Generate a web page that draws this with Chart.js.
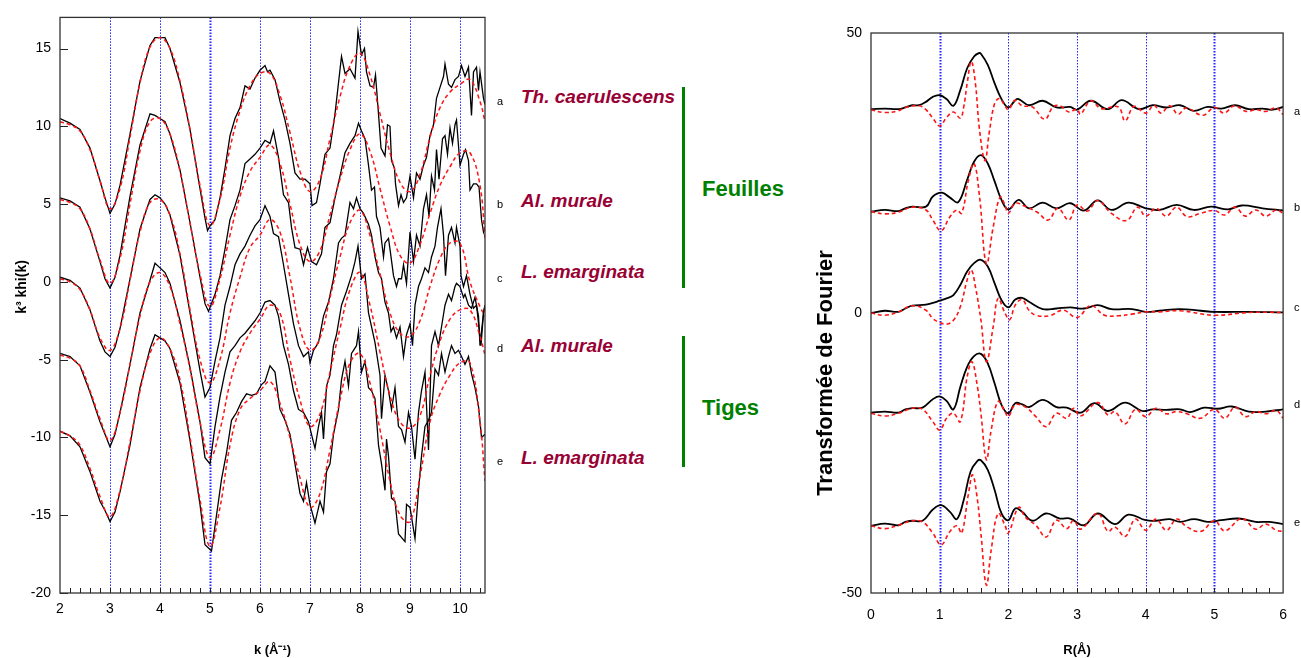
<!DOCTYPE html>
<html>
<head>
<meta charset="utf-8">
<script src="https://cdn.jsdelivr.net/npm/chart.js@4.4.1/dist/chart.umd.min.js"></script>
<style>
body { margin: 0; background: #fff; width: 1301px; height: 658px; position: relative; overflow: hidden; font-family: "Liberation Sans", Arial, sans-serif; }
#leftBox { position: absolute; left: 0; top: 0; width: 500px; height: 658px; }
#rightBox { position: absolute; left: 800px; top: 0; width: 501px; height: 658px; }
.lab { position: absolute; font-size: 11px; line-height: 12px; color: #000; }
.sp { position: absolute; font: italic bold 19px/20px "Liberation Sans", Arial, sans-serif; color: #990033; white-space: nowrap; }
.grp { position: absolute; font: bold 22px/24px "Liberation Sans", Arial, sans-serif; color: #008000; white-space: nowrap; }
.bar { position: absolute; left: 682px; width: 3px; background: #008000; }
.ytitle { position: absolute; width: 300px; text-align: center; transform: rotate(-90deg); white-space: nowrap; font-weight: bold; color: #000; }
</style>
</head>
<body>
<div id="leftBox"><canvas id="exafs"></canvas></div>
<div id="rightBox"><canvas id="fourier"></canvas></div>

<div class="ytitle" style="left:-129px; top:277px; height:20px; font-size:14px; line-height:20px;">k³ khi(k)</div>
<div class="ytitle" style="left:675px; top:359px; height:28px; font-size:22px; line-height:28px;">Transformée de Fourier</div>

<div class="lab" style="left:497px; top:95px;">a</div>
<div class="lab" style="left:497px; top:198px;">b</div>
<div class="lab" style="left:497px; top:272px;">c</div>
<div class="lab" style="left:497px; top:342px;">d</div>
<div class="lab" style="left:497px; top:455px;">e</div>

<div class="lab" style="left:1294px; top:105px;">a</div>
<div class="lab" style="left:1294px; top:201px;">b</div>
<div class="lab" style="left:1294px; top:301px;">c</div>
<div class="lab" style="left:1294px; top:398px;">d</div>
<div class="lab" style="left:1294px; top:516px;">e</div>

<div class="sp" style="left:521px; top:87px;">Th. caerulescens</div>
<div class="sp" style="left:521px; top:191px;">Al. murale</div>
<div class="sp" style="left:521px; top:262px;">L. emarginata</div>
<div class="sp" style="left:521px; top:336px;">Al. murale</div>
<div class="sp" style="left:521px; top:448px;">L. emarginata</div>

<div class="bar" style="top:87px; height:201px;"></div>
<div class="bar" style="top:336px; height:131px;"></div>
<div class="grp" style="left:702px; top:177px;">Feuilles</div>
<div class="grp" style="left:702px; top:396px;">Tiges</div>

<script>
// ---- spectres k3 chi(k) : experience (noir) ----
const kExpA = [2.0,2.2,2.4,2.6,2.8,2.9,3.0,3.1,3.2,3.4,3.6,3.8,3.9,4.0,4.1,4.2,4.4,4.6,4.8,4.9,4.95,5.0,5.1,5.2,5.3,5.4,5.5,5.6,5.7,5.8,5.9,6.0,6.1,6.15,6.2,6.3,6.4,6.5,6.6,6.7,6.8,6.9,7.0,7.04,7.13,7.2,7.3,7.4,7.5,7.63,7.7,7.8,7.9,7.96,8.03,8.09,8.13,8.2,8.27,8.31,8.37,8.42,8.5,8.55,8.6,8.63,8.69,8.71,8.77,8.82,8.87,8.93,9.0,9.07,9.13,9.2,9.27,9.33,9.4,9.47,9.53,9.6,9.67,9.7,9.77,9.83,9.9,9.97,10.03,10.1,10.17,10.23,10.27,10.33,10.37,10.4,10.47,10.5];
const expA = [10.5,10.2,9.8,8.6,6.5,5.4,4.4,5.0,6.2,9.5,12.9,15.2,15.7,15.7,15.7,15.0,12.8,9.8,6.0,4.1,3.3,3.6,4.0,5.4,7.3,9.4,10.5,11.2,12.6,12.4,13.1,13.6,13.9,13.5,13.6,13.0,11.6,10.4,8.9,7.0,6.6,6.6,6.3,4.9,5.1,6.3,8.2,8.6,10.8,14.5,13.4,13.7,13.1,16.1,14.6,15.0,13.5,12.6,12.5,13.3,10.8,8.6,8.1,10.1,10.0,7.8,7.3,6.3,4.9,5.6,5.1,5.4,6.8,5.4,7.0,6.6,7.5,8.0,9.4,10.1,11.8,12.5,13.2,14.0,12.7,12.5,13.0,13.2,13.9,13.2,13.8,10.7,13.5,13.8,12.3,13.5,11.8,11.4];

const kExpB = [2.0,2.2,2.4,2.6,2.8,2.9,3.0,3.1,3.2,3.4,3.6,3.8,3.9,4.0,4.1,4.2,4.4,4.6,4.8,4.9,4.97,5.1,5.2,5.3,5.4,5.5,5.6,5.7,5.8,5.9,6.0,6.1,6.2,6.27,6.37,6.47,6.57,6.63,6.7,6.8,6.87,6.95,7.03,7.13,7.23,7.3,7.4,7.5,7.6,7.7,7.8,7.9,7.97,8.03,8.1,8.17,8.23,8.29,8.33,8.4,8.47,8.5,8.57,8.6,8.67,8.73,8.77,8.83,8.87,8.93,9.0,9.07,9.13,9.2,9.27,9.33,9.38,9.43,9.49,9.53,9.58,9.65,9.7,9.75,9.8,9.85,9.9,9.93,10.0,10.07,10.11,10.17,10.2,10.27,10.33,10.38,10.43,10.47,10.5];
const expB = [5.4,5.2,4.8,3.4,1.3,0.2,-0.4,0.3,1.7,5.5,8.8,10.8,10.7,10.5,10.3,9.5,7.2,3.8,0.3,-1.4,-1.9,-0.8,0.4,2.1,4.0,4.9,5.9,7.6,7.9,8.2,8.6,9.1,8.9,9.7,8.0,5.6,5.1,3.5,2.2,2.1,1.1,2.2,1.3,1.1,1.8,3.5,3.8,5.4,6.8,8.3,8.9,9.4,10.2,9.7,9.2,7.5,5.9,6.1,4.2,3.5,1.6,2.5,2.8,2.1,0.4,-0.3,0.2,0.2,1.1,-0.1,3.2,1.3,3.0,2.3,4.7,5.6,4.2,6.8,5.9,8.5,6.6,9.2,9.4,8.2,9.9,8.9,10.1,10.4,7.5,8.2,8.5,7.8,5.9,6.3,6.3,6.1,4.0,3.2,3.5];

const kExpC = [2.0,2.2,2.4,2.6,2.8,2.9,3.0,3.1,3.2,3.4,3.6,3.8,3.9,4.0,4.1,4.2,4.4,4.6,4.8,4.9,5.0,5.1,5.2,5.3,5.4,5.5,5.6,5.7,5.8,5.9,6.0,6.1,6.2,6.27,6.37,6.47,6.57,6.67,6.77,6.87,6.97,7.0,7.07,7.17,7.27,7.37,7.47,7.57,7.63,7.7,7.8,7.87,7.93,8.0,8.07,8.17,8.23,8.3,8.37,8.43,8.5,8.57,8.62,8.67,8.73,8.8,8.87,8.93,9.0,9.05,9.1,9.17,9.23,9.3,9.37,9.43,9.5,9.55,9.62,9.67,9.71,9.77,9.83,9.9,9.93,10.0,10.02,10.07,10.13,10.2,10.27,10.33,10.42,10.47,10.5];
const expC = [0.3,0.1,-0.4,-1.8,-3.8,-4.5,-4.8,-4.2,-3.0,0.2,3.4,5.3,5.6,5.4,5.0,4.3,1.7,-2.0,-5.7,-7.4,-6.8,-5.1,-3.6,-1.5,-0.3,1.1,1.8,2.3,3.0,3.6,4.0,4.9,4.2,3.1,2.9,1.1,-0.8,-2.7,-4.1,-4.8,-4.5,-5.2,-4.4,-3.9,-2.2,-1.3,0.2,2.5,2.8,3.0,5.1,4.7,5.4,4.7,4.4,3.7,3.0,1.6,0.6,0.2,-1.3,-2.0,-3.2,-2.9,-3.6,-2.9,-4.8,-3.4,-2.7,-4.1,-1.5,-0.3,0.2,0.9,0.6,1.6,2.3,3.5,4.7,3.0,0.4,3.0,3.5,2.5,3.5,2.3,0.4,-0.3,0.4,-0.8,-1.7,-1.5,-4.1,-2.0,-1.5];

const kExpD = [2.0,2.2,2.4,2.6,2.8,2.9,3.0,3.1,3.2,3.4,3.6,3.8,3.9,4.0,4.1,4.2,4.4,4.6,4.8,4.9,5.0,5.1,5.2,5.3,5.4,5.5,5.6,5.7,5.8,5.9,6.0,6.1,6.2,6.3,6.37,6.47,6.57,6.67,6.77,6.87,6.97,7.03,7.1,7.17,7.23,7.27,7.33,7.4,7.47,7.53,7.63,7.73,7.83,7.9,7.96,8.03,8.1,8.17,8.3,8.4,8.43,8.5,8.57,8.63,8.7,8.77,8.83,8.9,8.97,9.03,9.1,9.17,9.23,9.3,9.37,9.43,9.5,9.57,9.63,9.7,9.77,9.83,9.9,9.93,10.0,10.07,10.1,10.17,10.23,10.3,10.37,10.4,10.47,10.5];
const expD = [-4.6,-4.8,-5.4,-7.1,-9.0,-9.8,-10.6,-9.8,-8.4,-5.3,-2.0,0.1,1.2,0.9,0.6,-0.1,-2.5,-5.5,-9.0,-11.3,-11.7,-9.3,-7.4,-5.8,-4.5,-4.1,-3.6,-3.3,-2.9,-2.5,-2.0,-1.3,-1.2,-1.5,-2.2,-4.1,-5.3,-7.0,-8.2,-8.4,-9.0,-9.8,-10.7,-9.3,-8.4,-10.1,-6.7,-6.0,-4.1,-3.4,-1.5,-0.6,0.4,1.3,2.3,0.2,0.5,-2.0,-3.9,-6.0,-8.8,-6.0,-7.0,-8.2,-6.8,-9.3,-9.5,-10.3,-8.4,-9.3,-11.4,-8.4,-7.0,-5.8,-10.8,-4.1,-3.2,-4.1,-2.9,-1.5,-0.8,-1.2,-0.3,-0.1,-0.3,-1.0,-0.8,-1.5,-1.7,-1.0,-2.2,-4.1,-2.0,-1.5];

const kExpE = [2.0,2.2,2.4,2.6,2.8,2.9,3.0,3.1,3.2,3.4,3.6,3.8,3.9,4.0,4.1,4.2,4.4,4.6,4.8,4.9,5.03,5.13,5.23,5.33,5.43,5.53,5.63,5.73,5.83,5.93,6.03,6.1,6.2,6.3,6.4,6.5,6.6,6.7,6.8,6.87,6.93,7.0,7.1,7.2,7.27,7.33,7.4,7.47,7.57,7.63,7.7,7.77,7.83,7.93,7.97,8.03,8.1,8.17,8.23,8.3,8.37,8.43,8.5,8.53,8.57,8.63,8.7,8.77,8.9,8.93,9.0,9.1,9.17,9.23,9.3,9.37,9.43,9.5,9.57,9.63,9.7,9.77,9.83,9.9,9.97,10.03,10.1,10.17,10.23,10.3,10.37,10.43,10.5];
const expE = [-9.6,-9.9,-10.6,-12.2,-14.1,-14.7,-15.4,-14.8,-13.5,-10.5,-6.8,-4.3,-3.4,-3.6,-3.8,-4.3,-6.5,-10.2,-14.3,-16.9,-17.3,-15.0,-12.7,-11.0,-8.9,-8.4,-7.7,-7.2,-7.3,-7.2,-6.6,-6.4,-5.4,-5.8,-8.2,-8.9,-9.8,-11.7,-13.6,-14.1,-12.9,-14.3,-15.5,-14.1,-14.8,-12.2,-11.7,-9.8,-8.2,-6.3,-5.1,-6.7,-4.6,-4.1,-3.2,-5.8,-5.1,-6.8,-7.0,-7.5,-10.5,-11.7,-13.4,-10.1,-11.2,-13.9,-14.1,-16.2,-16.7,-14.3,-14.5,-16.5,-13.4,-11.2,-9.3,-8.9,-8.4,-5.6,-6.0,-4.6,-5.8,-4.8,-4.1,-4.6,-4.4,-4.8,-5.3,-4.8,-5.9,-6.8,-8.0,-10.0,-9.8];

// ---- ajustements (rouge, tirets) ----
const kFit = [2.0,2.2,2.4,2.6,2.8,3.0,3.2,3.4,3.6,3.8,4.0,4.2,4.4,4.6,4.8,5.0,5.2,5.4,5.6,5.8,6.0,6.2,6.4,6.6,6.8,7.0,7.2,7.4,7.6,7.8,8.0,8.2,8.4,8.6,8.8,9.0,9.2,9.4,9.6,9.8,10.0,10.2,10.4,10.5];
const fitA = [10.3,10.1,9.7,8.5,6.5,4.7,6.0,9.3,12.8,15.1,15.7,15.0,12.9,9.8,6.2,3.6,5.3,8.6,11.0,12.6,13.4,13.4,12.0,9.6,7.1,5.8,6.6,9.2,11.9,13.9,14.7,13.3,10.8,8.3,6.4,5.8,6.9,9.3,11.2,12.2,12.7,13.0,11.6,10.3];
const fitB = [5.3,5.1,4.7,3.4,1.4,-0.1,1.5,5.0,8.4,10.3,10.5,9.5,7.1,3.8,0.5,-1.6,0.2,3.0,5.5,7.1,8.0,8.8,7.6,5.0,2.4,1.3,2.0,4.3,6.6,8.5,9.5,8.4,6.0,3.6,1.7,1.2,2.4,4.4,6.2,7.4,8.3,8.3,6.2,2.8];
const fitC = [0.2,0.0,-0.5,-1.8,-3.6,-4.4,-3.0,0.1,3.2,5.1,5.3,4.3,1.8,-1.8,-5.0,-6.5,-5.0,-2.0,0.3,2.2,3.0,4.0,3.2,0.3,-3.0,-4.4,-3.6,-1.0,1.6,3.8,4.6,3.0,0.5,-2.0,-3.3,-3.5,-2.5,-0.3,1.5,2.5,2.5,0.0,-1.6,-2.2];
const fitD = [-4.7,-4.9,-5.4,-7.0,-8.8,-10.2,-8.4,-5.3,-2.2,0.0,0.6,-0.3,-2.7,-5.6,-9.0,-11.3,-9.5,-6.5,-4.5,-3.3,-2.4,-1.5,-2.0,-5.0,-7.6,-9.3,-8.5,-5.8,-3.0,-0.5,0.6,-1.5,-4.5,-7.3,-9.0,-9.4,-8.6,-6.0,-3.8,-2.4,-1.8,-1.8,-3.5,-4.7];
const fitE = [-9.6,-9.9,-10.5,-12.0,-13.8,-15.1,-13.4,-10.3,-7.0,-4.6,-3.6,-4.3,-6.3,-10.0,-14.0,-17.0,-14.5,-10.5,-8.2,-7.5,-7.0,-6.4,-7.8,-10.0,-12.6,-14.5,-13.6,-10.8,-7.6,-5.2,-4.6,-6.5,-9.5,-12.8,-15.0,-15.4,-12.5,-9.0,-7.2,-6.0,-5.2,-5.2,-9.0,-12.8];

// ---- transformees de Fourier : module (noir) et partie imaginaire (rouge) ----
const rMagA = [0,0.2,0.4,0.5,0.6,0.7,0.8,0.9,1.0,1.1,1.2,1.3,1.4,1.5,1.57,1.6,1.7,1.8,1.9,2.0,2.1,2.15,2.3,2.5,2.7,2.9,3.0,3.2,3.45,3.65,3.9,4.1,4.3,4.5,4.7,4.9,5.1,5.3,5.5,5.7,5.85,6.0];
const magA = [36.4,36.5,36.4,36.7,37.1,37.1,37.7,38.6,38.9,38.2,37.0,39.8,43.7,45.8,46.4,46.3,44.3,41.0,38.2,36.7,38.0,38.2,37.1,37.9,36.7,36.8,36.3,37.9,36.4,38.0,36.4,37.1,36.7,37.1,36.1,36.8,36.5,37.1,36.4,36.5,36.3,36.8];
const rReA = [0,0.2,0.4,0.5,0.7,0.8,0.9,1.0,1.1,1.2,1.3,1.35,1.4,1.46,1.52,1.58,1.66,1.72,1.8,1.87,1.95,2.0,2.1,2.2,2.35,2.53,2.65,2.75,2.88,3.0,3.05,3.2,3.35,3.6,3.7,3.83,4.0,4.12,4.22,4.35,4.47,4.59,4.83,5.0,5.14,5.29,5.46,5.6,5.75,5.9,6.0];
const reA = [36.3,35.8,36.1,36.7,37.0,36.3,34.8,33.4,34.9,35.9,34.8,36.8,41.0,44.9,41.0,32.7,27.2,32.1,37.4,38.3,37.0,36.3,38.0,37.0,36.8,34.6,36.8,37.0,35.9,36.4,35.5,37.9,36.5,36.8,34.3,36.9,35.7,37.1,35.7,37.0,35.5,36.6,35.3,36.7,35.7,37.0,36.0,36.3,36.0,36.6,35.4];

const rMagB = [0,0.2,0.4,0.5,0.6,0.8,0.9,1.03,1.15,1.27,1.4,1.5,1.6,1.7,1.8,1.9,2.0,2.15,2.3,2.5,2.7,2.9,3.1,3.3,3.5,3.75,4.0,4.2,4.45,4.7,4.95,5.2,5.4,5.7,6.0];
const magB = [18.1,18.4,18.2,18.7,19.0,19.0,20.8,21.5,20.6,19.8,23.8,27.0,28.2,26.7,23.5,20.2,18.5,20.2,18.7,19.7,18.7,19.6,18.3,20.1,18.4,19.7,18.7,18.4,19.3,18.4,19.0,18.5,19.2,18.7,18.3];
const rReB = [0,0.2,0.4,0.6,0.8,0.9,1.02,1.15,1.25,1.32,1.42,1.5,1.58,1.68,1.78,1.88,1.95,2.0,2.1,2.25,2.42,2.58,2.72,2.88,3.0,3.15,3.3,3.5,3.72,3.88,4.0,4.15,4.3,4.45,4.6,4.8,5.0,5.15,5.3,5.45,5.6,5.75,5.9,6.0];
const reB = [18.1,17.7,18.0,18.9,18.4,16.6,14.7,17.2,18.4,17.8,23.8,26.7,20.8,8.8,15.4,20.7,19.3,17.8,19.6,19.0,18.0,16.6,18.7,16.6,19.3,18.2,20.1,17.8,16.5,18.9,17.3,18.7,17.3,18.9,17.2,17.8,18.3,17.5,18.9,17.3,18.4,17.3,18.4,17.8];

const rMagC = [0,0.2,0.4,0.5,0.6,0.8,0.9,1.0,1.1,1.2,1.3,1.4,1.5,1.6,1.7,1.8,1.9,2.0,2.1,2.2,2.3,2.5,2.7,2.9,3.1,3.3,3.5,3.8,4.0,4.2,4.5,4.8,5.0,5.5,6.0];
const magC = [0,0.4,0.2,0.8,1.3,1.5,1.8,2.2,2.6,3.2,5.0,7.4,8.9,9.5,8.3,5.3,2.3,1.0,2.4,2.7,2.0,0.7,0.8,1.0,0.8,1.4,0.7,0.7,0.2,0.4,0.7,0.4,0.2,0.2,0.1];
const rReC = [0,0.2,0.4,0.6,0.8,0.9,1.0,1.1,1.2,1.3,1.4,1.46,1.52,1.6,1.68,1.78,1.85,1.95,2.02,2.1,2.2,2.3,2.4,2.6,2.8,3.0,3.2,3.4,3.6,3.8,4.0,4.2,4.5,5.0,5.5,6.0];
const reC = [0,-0.4,0.2,1.3,0.5,-1.0,-1.7,-2.0,-1.3,1.1,5.9,7.7,4.7,-1.2,-8.7,-2.4,2.6,0.0,-1.2,1.4,2.4,0.5,-0.4,-0.5,0.5,-0.8,1.3,-0.4,-0.5,-0.2,0.2,0.2,0.4,-0.4,0.1,0.1];

const rMagD = [0,0.2,0.4,0.5,0.6,0.75,0.9,1.0,1.1,1.2,1.3,1.4,1.5,1.6,1.7,1.8,1.9,2.0,2.1,2.2,2.3,2.5,2.7,2.85,3.05,3.25,3.45,3.7,3.95,4.1,4.3,4.5,4.65,4.85,5.05,5.25,5.5,5.75,6.0];
const magD = [-17.8,-17.6,-17.8,-17.2,-17.0,-16.9,-15.4,-14.9,-15.7,-17.2,-13.2,-9.6,-7.7,-7.3,-9.0,-12.6,-16.4,-17.9,-16.1,-16.3,-16.8,-15.5,-16.8,-16.9,-17.8,-16.1,-17.5,-16.0,-17.5,-17.2,-17.3,-17.2,-17.7,-16.9,-17.1,-16.7,-17.6,-17.6,-17.2];
const rReD = [0,0.2,0.4,0.6,0.75,0.9,1.0,1.1,1.2,1.3,1.4,1.47,1.55,1.6,1.68,1.75,1.85,1.95,2.0,2.1,2.25,2.4,2.55,2.7,2.85,2.95,3.05,3.3,3.45,3.55,3.7,3.85,4.0,4.15,4.3,4.45,4.6,4.8,5.0,5.15,5.3,5.45,5.6,5.75,5.9,6.0];
const reD = [-17.9,-18.4,-17.9,-17.0,-17.2,-19.4,-20.9,-18.8,-17.9,-19.4,-11.4,-8.7,-13.2,-17.9,-26.2,-20.9,-15.8,-17.6,-18.5,-16.4,-16.8,-18.5,-20.3,-17.9,-18.8,-17.0,-18.4,-16.0,-18.2,-17.6,-19.8,-17.2,-18.5,-17.0,-18.0,-17.6,-18.0,-18.8,-17.2,-18.8,-16.8,-18.5,-17.6,-18.0,-17.4,-18.8];

const rMagE = [0,0.2,0.4,0.5,0.6,0.75,0.9,1.02,1.15,1.25,1.35,1.45,1.55,1.6,1.7,1.8,1.9,2.0,2.1,2.2,2.35,2.55,2.75,2.9,3.1,3.3,3.55,3.75,4.0,4.15,4.35,4.5,4.7,4.9,5.1,5.35,5.6,5.8,6.0];
const magE = [-38.0,-37.6,-37.9,-37.3,-37.1,-37.1,-35.1,-34.3,-35.5,-36.8,-33.4,-28.3,-26.4,-26.3,-28.0,-31.6,-35.8,-37.0,-34.9,-35.5,-37.1,-35.8,-36.7,-36.7,-37.9,-35.8,-37.7,-36.0,-37.0,-37.1,-36.8,-37.3,-36.8,-37.3,-37.0,-36.7,-37.3,-37.3,-37.7];
const rReE = [0,0.2,0.4,0.6,0.75,0.9,1.02,1.15,1.25,1.32,1.42,1.48,1.55,1.6,1.68,1.75,1.85,1.95,2.0,2.15,2.25,2.4,2.55,2.7,2.85,2.95,3.05,3.3,3.45,3.55,3.7,3.85,4.0,4.15,4.3,4.45,4.6,4.8,5.0,5.15,5.4,5.6,5.75,5.9,6.0];
const reE = [-38.0,-38.5,-37.9,-37.1,-37.3,-39.3,-41.4,-39.0,-38.0,-39.3,-32.2,-28.9,-33.4,-39.3,-48.6,-42.3,-35.8,-37.9,-39.3,-34.7,-36.5,-37.9,-40.0,-37.0,-38.5,-37.0,-38.6,-35.8,-39.0,-38.2,-39.9,-36.8,-38.8,-36.8,-38.8,-36.8,-38.2,-39.0,-37.1,-38.9,-36.7,-38.6,-37.7,-38.8,-39.0];

const kGuides = [3,4,5,6,7,8,9,10];
const rGuides = [1,2,3,4,5];

Chart.defaults.font.family = "'Liberation Sans', Arial, sans-serif";
Chart.defaults.color = '#000';

function pts(xs, ys) {
    return xs.map((v, i) => ({ x: v, y: ys[i] }));
}
function black(xs, ys, w, t) {
    return { data: pts(xs, ys), borderColor: '#000', borderWidth: w, pointRadius: 0, tension: t, order: 2 };
}
function red(xs, ys, w) {
    return { data: pts(xs, ys), borderColor: '#ff1414', borderWidth: w, borderDash: [4, 3], pointRadius: 0, tension: 0.4, order: 1 };
}

// cadre, lignes bleues et petites graduations vers l'interieur
const frame = {
    id: 'frame',
    beforeDatasetsDraw(chart, args, o) {
        const { ctx, chartArea: a, scales: { x } } = chart;
        ctx.save();
        ctx.strokeStyle = '#2323ff';
        ctx.setLineDash([1.5, 1.5]);
        o.guides.forEach(v => {
            const px = Math.round(x.getPixelForValue(v)) + 0.5;
            ctx.lineWidth = o.wide.includes(v) ? 2 : 1;
            ctx.beginPath();
            ctx.moveTo(px, a.top);
            ctx.lineTo(px, a.bottom);
            ctx.stroke();
        });
        ctx.restore();
    },
    afterDatasetsDraw(chart, args, o) {
        const { ctx, chartArea: a, scales: { x, y } } = chart;
        ctx.save();
        ctx.strokeStyle = '#222';
        ctx.lineWidth = 1;
        ctx.beginPath();
        for (let i = 1; ; i++) {
            const v = x.min + i * o.minor;
            if (v > x.max - 1e-6) break;
            const px = Math.round(x.getPixelForValue(v)) + 0.5;
            ctx.moveTo(px, a.bottom);
            ctx.lineTo(px, a.bottom - 5);
        }
        if (o.yTicks) {
            y.ticks.forEach(t => {
                const py = Math.round(y.getPixelForValue(t.value)) + 0.5;
                ctx.moveTo(a.left, py);
                ctx.lineTo(a.left + 8, py);
            });
        }
        ctx.stroke();
        ctx.lineWidth = 1.3;
        ctx.strokeStyle = '#333';
        ctx.strokeRect(a.left, a.top, a.right - a.left, a.bottom - a.top);
        ctx.restore();
    }
};

new Chart('exafs', {
    type: 'line',
    data: {
        datasets: [
            black(kExpA, expA, 1.3, 0), black(kExpB, expB, 1.3, 0), black(kExpC, expC, 1.3, 0),
            black(kExpD, expD, 1.3, 0), black(kExpE, expE, 1.3, 0),
            red(kFit, fitA, 1.5), red(kFit, fitB, 1.5), red(kFit, fitC, 1.5),
            red(kFit, fitD, 1.5), red(kFit, fitE, 1.5)
        ]
    },
    options: {
        responsive: true,
        maintainAspectRatio: false,
        animation: false,
        events: [],
        layout: { padding: { left: 0, right: 15, top: 15, bottom: 0 } },
        plugins: {
            legend: { display: false },
            tooltip: { enabled: false },
            frame: { guides: kGuides, wide: [5], minor: 0.2, yTicks: true }
        },
        scales: {
            x: {
                type: 'linear', min: 2, max: 10.5,
                afterFit: s => { s.height = 65; },
                grid: { display: false, drawTicks: false },
                border: { display: false },
                ticks: { stepSize: 1, includeBounds: false, padding: 8, maxRotation: 0, font: { size: 14 } },
                title: { display: true, text: 'k (Å⁻¹)', font: { size: 13, weight: 'bold' }, padding: { top: 0, bottom: 0 } }
            },
            y: {
                min: -20, max: 17,
                afterFit: s => { s.width = 60; },
                grid: { display: false, drawTicks: false },
                border: { display: false },
                ticks: { stepSize: 5, includeBounds: false, padding: 9, font: { size: 14 } }
            }
        }
    },
    plugins: [frame]
});

new Chart('fourier', {
    type: 'line',
    data: {
        datasets: [
            black(rMagA, magA, 1.8, 0.4), black(rMagB, magB, 1.8, 0.4), black(rMagC, magC, 1.8, 0.4),
            black(rMagD, magD, 1.8, 0.4), black(rMagE, magE, 1.8, 0.4),
            red(rReA, reA, 1.6), red(rReB, reB, 1.6), red(rReC, reC, 1.6),
            red(rReD, reD, 1.6), red(rReE, reE, 1.6)
        ]
    },
    options: {
        responsive: true,
        maintainAspectRatio: false,
        animation: false,
        events: [],
        layout: { padding: { left: 0, right: 17, top: 33, bottom: 0 } },
        plugins: {
            legend: { display: false },
            tooltip: { enabled: false },
            frame: { guides: rGuides, wide: [1, 5], minor: 0.2, yTicks: false }
        },
        scales: {
            x: {
                type: 'linear', min: 0, max: 6,
                afterFit: s => { s.height = 65; },
                grid: { display: false, drawTicks: false },
                border: { display: false },
                ticks: { stepSize: 1, includeBounds: false, padding: 14, maxRotation: 0, font: { size: 14 } },
                title: { display: true, text: 'R(Å)', font: { size: 13, weight: 'bold' }, padding: { top: 0, bottom: 0 } }
            },
            y: {
                min: -50, max: 50,
                afterFit: s => { s.width = 71; },
                grid: { display: false, drawTicks: false },
                border: { display: false },
                ticks: { stepSize: 50, padding: 9, font: { size: 14 } }
            }
        }
    },
    plugins: [frame]
});
</script>
</body>
</html>
